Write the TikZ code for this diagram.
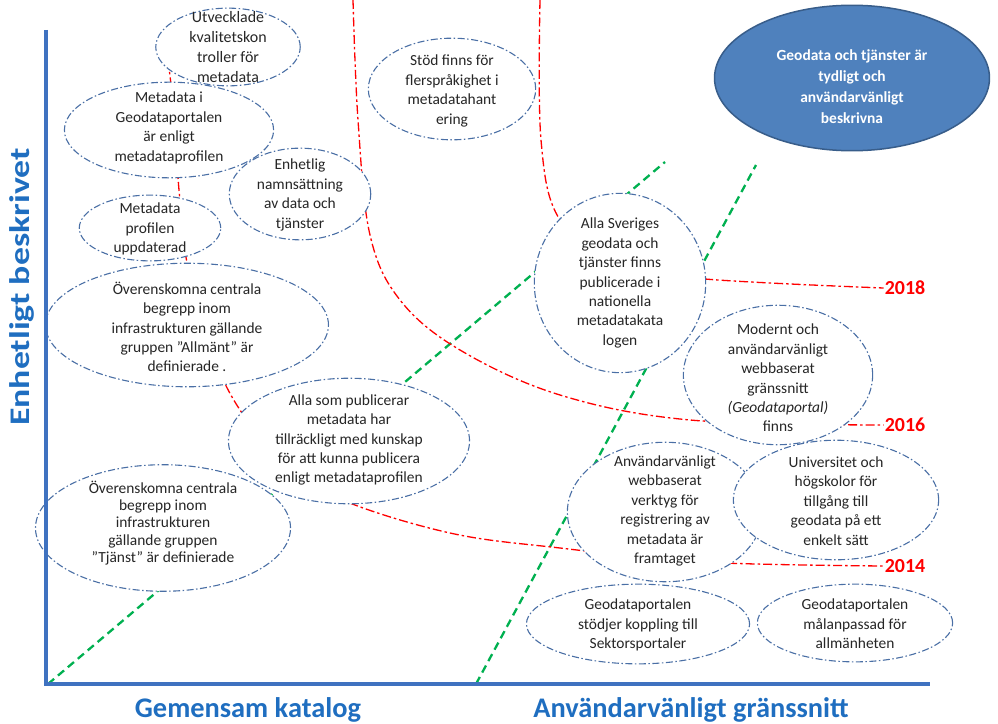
\documentclass[tikz,border=0pt]{standalone}
\usepackage{fontspec}
\setmainfont{Carlito}
\usetikzlibrary{shapes.geometric}
\definecolor{elb}{HTML}{4A6FA5}
\definecolor{txt}{HTML}{262626}
\definecolor{redl}{HTML}{FF0000}
\definecolor{grnl}{HTML}{00B050}
\definecolor{fillb}{HTML}{4F81BD}
\definecolor{fillbd}{HTML}{385D8A}
\definecolor{axisc}{HTML}{3F72C0}
\definecolor{axtxt}{HTML}{1F6EC0}
\tikzset{
  goal/.style={ellipse, draw=elb, line width=1.1bp, dash pattern=on 7bp off 2.5bp on 1.5bp off 2.5bp, fill=white, inner sep=0pt},
  gtext/.style={align=center, text=txt, font=\fontsize{15.5}{19.5}\selectfont, inner sep=0pt},
  redc/.style={draw=redl, line width=1.3bp, dash pattern=on 9bp off 3bp on 2.5bp off 3bp},
  grnc/.style={draw=grnl, line width=2.3bp, dash pattern=on 8bp off 5bp},
  year/.style={text=redl, font=\fontsize{20}{22}\selectfont\bfseries, inner sep=1bp},
  axlab/.style={text=axtxt, font=\fontsize{28.5}{30}\selectfont\bfseries, inner sep=0pt},
  axline/.style={draw=axisc, line width=3.5bp},
}
\begin{document}
\begin{tikzpicture}[x=1bp,y=-1bp]
\useasboundingbox (0,0) rectangle (998,724);
% year labels
\node[year] (y18) at (905,288) {2018};
\node[year] (y16) at (905,425) {2016};
\node[year] (y14) at (905,566) {2014};
% green lines
\coordinate (g1a) at (48,684);
\coordinate (g1b) at (665,162);
\coordinate (g2a) at (476,684);
\coordinate (g2b) at (756,165);
\draw[grnc] (g1a) -- (g1b);
\draw[grnc] (g2a) -- (g2b);
% red curves
\draw[redc] plot[smooth, tension=0.6] coordinates {(540,0) (541,140) (560,220) (620,265) (705,279) (y18.west)};
\draw[redc] plot[smooth, tension=0.6] coordinates {(353,0) (358,120) (370,235) (400,300) (460,350) (560,395) (690,420) (y16.west)};
\draw[redc] plot[smooth, tension=0.6] coordinates {(168,60) (176,130) (179,190) (190,280) (215,360) (240,410) (280,460) (340,499) (450,533) (560,548) (700,562) (y14.west)};
% ellipses
\node[goal, minimum width=145, minimum height=78] (e1) at (228,47) {};
\node[gtext, font=\fontsize{16}{20}\selectfont] (t1) at (e1.center) {Utvecklade\\kvalitetskon\\troller för\\metadata};
\node[goal, minimum width=210, minimum height=96] (e2) at (169,130) {};
\node[gtext] (t2) at (169,128) {Metadata i\\Geodataportalen\\är enligt\\metadataprofilen};
\node[goal, minimum width=168, minimum height=102] (e3) at (452,89) {};
\node[gtext] (t3) at (452,91) {Stöd finns för\\flerspråkighet i\\metadatahant\\ering};
\node[goal, minimum width=142, minimum height=92] (e4) at (300,194) {};
\node[gtext] (t4) at (300,195) {Enhetlig\\namnsättning\\av data och\\tjänster};
\node[goal, minimum width=142, minimum height=66] (e5) at (150,228) {};
\node[gtext] (t5) at (150,229) {Metadata\\profilen\\uppdaterad};
\node[goal, minimum width=284, minimum height=124] (e6) at (187,325) {};
\node[gtext] (t6) at (187,327) {Överenskomna centrala\\begrepp inom\\infrastrukturen gällande\\gruppen ”Allmänt” är\\definierade .};
\node[goal, minimum width=242, minimum height=126] (e7) at (349,441) {};
\node[gtext] (t7) at (349,440) {Alla som publicerar\\metadata har\\tillräckligt med kunskap\\för att kunna publicera\\enligt metadataprofilen};
\node[goal, minimum width=256, minimum height=127] (e8) at (163,528) {};
\node[gtext, font=\fontsize{15.5}{17.5}\selectfont] (t8) at (163,523) {Överenskomna centrala\\begrepp inom\\infrastrukturen\\gällande gruppen\\”Tjänst” är definierade};
\node[goal, minimum width=172, minimum height=180] (e9) at (620,283) {};
\node[gtext] (t9) at (620,283) {Alla Sveriges\\geodata och\\tjänster finns\\publicerade i\\nationella\\metadatakata\\logen};
\node[goal, minimum width=190, minimum height=140] (e10) at (778,375) {};
\node[gtext] (t10) at (778,378) {Modernt och\\användarvänligt\\webbaserat\\gränssnitt\\\textit{(Geodataportal)}\\finns};
\node[goal, minimum width=196, minimum height=140] (e11) at (665,512) {};
\node[gtext] (t11) at (665,511) {Användarvänligt\\webbaserat\\verktyg för\\registrering av\\metadata är\\framtaget};
\node[goal, minimum width=206, minimum height=120] (e12) at (836,500) {};
\node[gtext] (t12) at (836,501) {Universitet och\\högskolor för\\tillgång till\\geodata på ett\\enkelt sätt};
\node[goal, minimum width=224, minimum height=80] (e13) at (638,624) {};
\node[gtext] (t13) at (638,625) {Geodataportalen\\stödjer koppling till\\Sektorsportaler};
\node[goal, minimum width=196, minimum height=78] (e14) at (855,623) {};
\node[gtext] (t14) at (855,624) {Geodataportalen\\målanpassad för\\allmänheten};
% filled goal
\node[ellipse, fill=fillb, draw=fillbd, line width=1.5bp, minimum width=276, minimum height=146, inner sep=0pt] (e15) at (852,78) {};
\node[align=center, text=white, font=\fontsize{15.5}{21}\selectfont\bfseries, inner sep=0pt] (t15) at (852,87) {Geodata och tjänster är\\tydligt och\\användarvänligt\\beskrivna};
% axes
\coordinate (ax0) at (46,684);
\coordinate (axt) at (46,30);
\coordinate (axr) at (930,684);
\draw[axline] (axt) -- (ax0) -- (axr);
\node[axlab, rotate=90] (lv) at (22,287) {\scalebox{1.26}[1]{Enhetligt beskrivet}};
\node[axlab] (lb1) at (248,710) {Gemensam katalog};
\node[axlab] (lb2) at (691,710) {Användarvänligt gränssnitt};
\end{tikzpicture}
\end{document}
